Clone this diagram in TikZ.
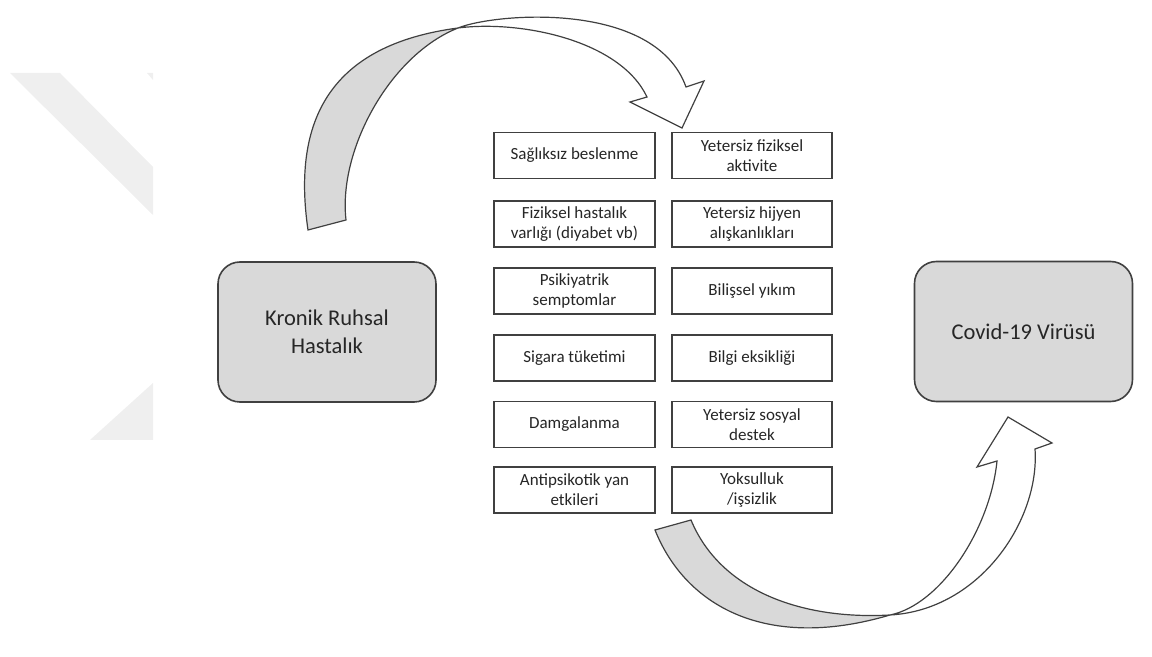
\documentclass[tikz,border=0pt]{standalone}
\usepackage{fontspec}
\setmainfont{Carlito}
\definecolor{boxgray}{HTML}{D9D9D9}
\definecolor{edgegray}{HTML}{404040}
\definecolor{txtgray}{HTML}{262626}
\definecolor{wmgray}{HTML}{EFEFEF}
\begin{document}
\begin{tikzpicture}[x=0.5pt,y=-0.5pt,
  factor/.style={draw=edgegray, line width=0.8pt, fill=white, minimum width=80.5pt, minimum height=23pt, inner sep=0pt, align=center, font=\fontsize{8.5}{10}\selectfont, text=txtgray},
  mainbox/.style={draw=edgegray, line width=0.8pt, fill=boxgray, rounded corners=11pt, minimum width=109pt, minimum height=70pt, inner sep=0pt, align=center, font=\fontsize{11.25}{14}\selectfont, text=txtgray},
  bandedge/.style={draw=edgegray, line width=0.6pt, line join=miter},
  bandfill/.style={fill=boxgray},
  watermark/.style={fill=wmgray}]
\useasboundingbox (0,0) rectangle (1152,657);
% watermark
\fill[watermark] (10,73) -- (60,73) -- (153,167) -- (153,215) -- cycle;
\fill[watermark] (147,73) -- (153,73) -- (153,80) -- cycle;
\fill[watermark] (153,383) -- (153,440) -- (90,440) -- cycle;
% main boxes
\node[mainbox] (kronik) at (327,332) {Kronik Ruhsal\\Hastalık};
\node[mainbox] (covid) at (1023.5,331.5) {Covid-19 Virüsü};
% factor boxes
\node[factor] (f1) at (574.5,155.5) {Sağlıksız beslenme};
\node[factor] (f2) at (574.5,224) {Fiziksel hastalık\\varlığı (diyabet vb)};
\node[factor] (f3) at (574.5,291) {Psikiyatrik\\semptomlar};
\node[factor] (f4) at (574.5,358) {Sigara tüketimi};
\node[factor] (f5) at (574.5,424.5) {Damgalanma};
\node[factor] (f6) at (574.5,490) {Antipsikotik yan\\etkileri};
\node[factor, minimum width=80pt] (g1) at (752,155.5) {Yetersiz fiziksel\\aktivite};
\node[factor, minimum width=80pt] (g2) at (752,224) {Yetersiz hijyen\\alışkanlıkları};
\node[factor, minimum width=80pt] (g3) at (752,291) {Bilişsel yıkım};
\node[factor, minimum width=80pt] (g4) at (752,358) {Bilgi eksikliği};
\node[factor, minimum width=80pt] (g5) at (752,424.5) {Yetersiz sosyal\\destek};
\node[factor, minimum width=80pt] (g6) at (752,490) {Yoksulluk\\/işsizlik};
% upper curved arrow
\fill[bandfill] (308,230) .. controls (292,120) and (330,45) .. (458,28)
  .. controls (390,55) and (338,150) .. (346,220) -- cycle;
\draw[bandedge] (308,230) .. controls (292,120) and (330,45) .. (458,28)
  .. controls (520,20) and (620,40) .. (647,97)
  -- (630,102) -- (682,128) -- (704,81) -- (686,87)
  .. controls (655,0) and (495,13) .. (458,28)
  .. controls (390,55) and (338,150) .. (346,220) -- cycle;
% lower curved arrow
\fill[bandfill] (655,530) .. controls (685,605) and (765,652) .. (890,615)
  .. controls (800,620) and (720,590) .. (691,520) -- cycle;
\draw[bandedge] (655,530) .. controls (685,605) and (765,652) .. (890,615)
  .. controls (940,605) and (990,530) .. (997,461)
  -- (977,467) -- (1008,417) -- (1052,443) -- (1035,449)
  .. controls (1040,520) and (980,610) .. (890,615)
  .. controls (800,620) and (720,590) .. (691,520) -- cycle;
\end{tikzpicture}
\end{document}
